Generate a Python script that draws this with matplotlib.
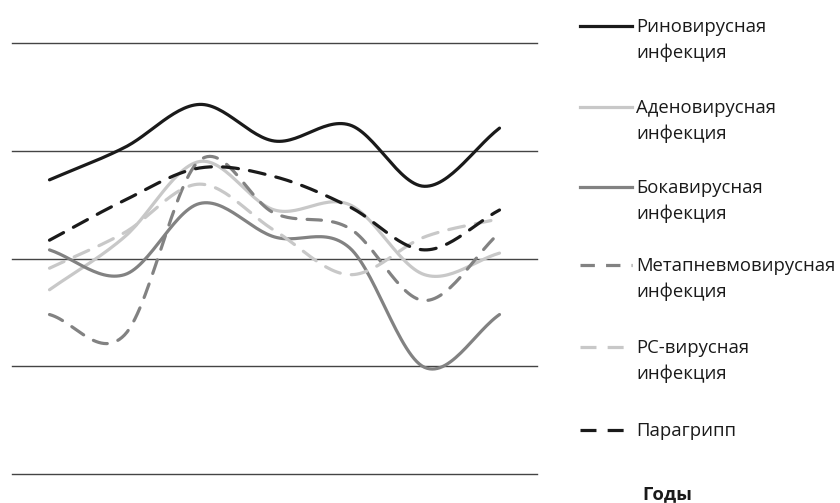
import matplotlib.pyplot as plt
import numpy as np
from matplotlib.lines import Line2D

plt.rcParams["font.family"] = ["Open Sans", "DejaVu Sans"]

# Seven time points (years are not labelled in the source)
points = np.arange(7)
rhino = [27.3, 30.3, 34.3, 30.9, 32.4, 26.7, 32.1]
adeno = [17.1, 22.0, 29.0, 24.5, 25.0, 18.5, 20.5]
boca = [20.8, 18.5, 25.1, 22.0, 21.0, 9.9, 14.8]
metapneumo = [14.8, 12.9, 29.1, 24.2, 22.8, 16.1, 22.4]
rsv = [19.1, 22.4, 26.9, 22.6, 18.5, 22.0, 23.7]
paraflu = [21.7, 25.4, 28.4, 27.6, 24.8, 20.8, 24.5]
grid_values = [0, 10, 20, 30, 40]

labels = [
    ["Риновирусная", "инфекция"],
    ["Аденовирусная", "инфекция"],
    ["Бокавирусная", "инфекция"],
    ["Метапневмовирусная", "инфекция"],
    ["РС-вирусная", "инфекция"],
    ["Парагрипп"],
]

BLACK = "#1a1a1a"
LIGHT = "#c8c8c8"
MID = "#828282"
styles = [
    (rhino, BLACK, None),
    (adeno, LIGHT, None),
    (boca, MID, None),
    (metapneumo, MID, (4.5, 3.5)),
    (rsv, LIGHT, (5, 3.5)),
    (paraflu, BLACK, (5, 3.5)),
]


def smooth(x, y, n=30):
    """Catmull-Rom curve through the points, like a spreadsheet smoothed line."""
    x = np.asarray(x, float)
    y = np.asarray(y, float)
    px = np.concatenate([[2 * x[0] - x[1]], x, [2 * x[-1] - x[-2]]])
    py = np.concatenate([[2 * y[0] - y[1]], y, [2 * y[-1] - y[-2]]])
    xs, ys = [], []
    t = np.linspace(0, 1, n)
    for i in range(1, len(px) - 2):
        for arr, out in ((px, xs), (py, ys)):
            p0, p1, p2, p3 = arr[i - 1], arr[i], arr[i + 1], arr[i + 2]
            m1 = (p2 - p0) / 2
            m2 = (p3 - p1) / 2
            h00 = 2 * t**3 - 3 * t**2 + 1
            h10 = t**3 - 2 * t**2 + t
            h01 = -2 * t**3 + 3 * t**2
            h11 = t**3 - t**2
            out.append(h00 * p1 + h10 * m1 + h01 * p2 + h11 * m2)
    return np.concatenate(xs), np.concatenate(ys)


W, H = 840, 503
fig = plt.figure(figsize=(W / 100, H / 100), dpi=100)
ax = fig.add_axes([12 / W, 1 - 474 / H, (537 - 12) / W, (474 - 43) / H])
ax.set_xlim(-0.5, 6.5)
ax.set_ylim(0, 40)
ax.axis("off")

for g in grid_values:
    ax.axhline(g, color="#444444", lw=1.0, clip_on=False, zorder=1)

lw = 2.3
for values, color, dash in styles:
    sx, sy = smooth(points, values)
    line, = ax.plot(sx, sy, color=color, lw=lw, zorder=3, solid_capstyle="round")
    if dash:
        line.set_dashes(dash)
        line.set_dash_capstyle("round")


def fx(px):
    return px / W


def fy(py):
    return 1 - py / H


legend_rows = [26, 107, 187, 265, 347, 430]
for (values, color, dash), label, row in zip(styles, labels, legend_rows):
    handle = Line2D([fx(580), fx(632)], [fy(row), fy(row)], color=color, lw=lw,
                    transform=fig.transFigure)
    if dash:
        handle.set_dashes(dash)
    fig.add_artist(handle)
    for k, text in enumerate(label):
        fig.text(fx(636), fy(row + 6 + 26 * k), text, fontsize=13.3,
                 color="#1a1a1a", va="baseline", ha="left")

fig.text(fx(642), fy(499), "Годы", fontsize=13.3, fontweight="bold",
         color="#1a1a1a", va="baseline", ha="left")

fig.savefig("out.png", dpi=100, facecolor="white")
